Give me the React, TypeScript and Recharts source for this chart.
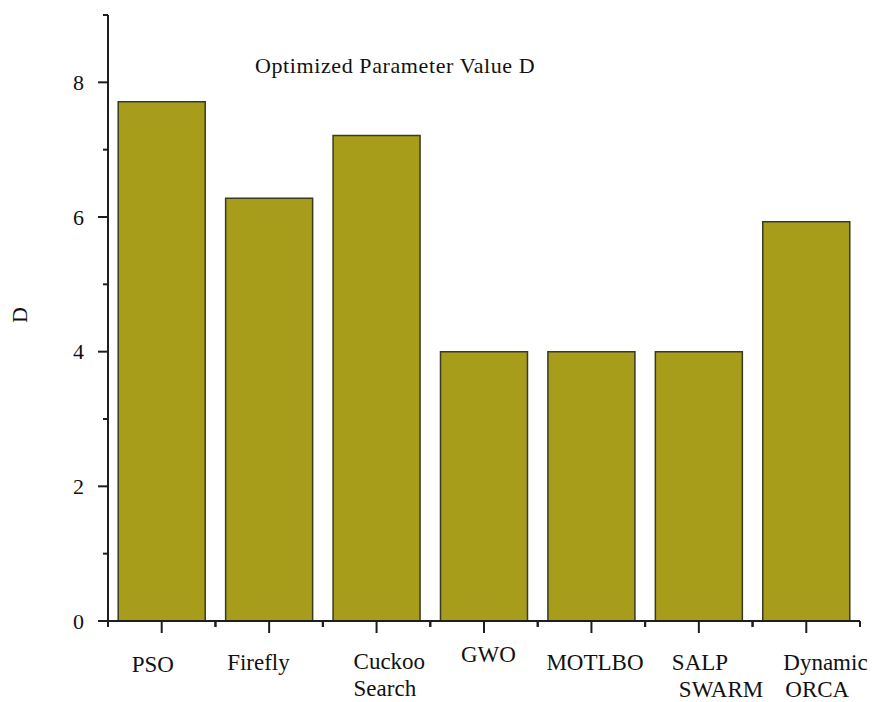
import { Bar, BarChart, XAxis, YAxis } from "recharts"

const CATEGORIES = ["PSO", "Firefly", "Cuckoo Search", "GWO", "MOTLBO", "SALP SWARM", "Dynamic ORCA"]
const LABEL_LINES = [["PSO"], ["Firefly"], ["Cuckoo", "Search"], ["GWO"], ["MOTLBO"], ["SALP", "SWARM"], ["Dynamic", "ORCA"]]
const D_VALUES = [7.71, 6.28, 7.21, 4.0, 4.0, 4.0, 5.93]
const Y_TICKS = [0, 1, 2, 3, 4, 5, 6, 7, 8, 9]
const TITLE = "Optimized Parameter Value D"

// label placement (left x offset from tick, baseline y) – the source labels are placed by hand
const LABEL_POS = [
  [[-30, 672]],
  [[-42, 670]],
  [[-23, 669], [-23, 696]],
  [[-23, 662]],
  [[-45, 670]],
  [[-27, 670], [-20, 697]],
  [[-23, 670], [-21, 697]],
]

const W = 875
const H = 702
const M = { top: 15, right: 15, left: 0, bottom: 0 }
const Y_W = 108
const X_H = 81
const BAND = (W - M.right - Y_W) / CATEGORIES.length
const FONT = "'Liberation Serif', 'Times New Roman', Times, serif"
const INK = "#1e1e1e"

const data = CATEGORIES.map((name, i) => ({ name, d: D_VALUES[i] }))

function XTick(props: any) {
  const { x, y, payload } = props
  const i = payload.index
  const lines = LABEL_LINES[i]
  return (
    <g>
      <line x1={x} x2={x} y1={y} y2={y + 12} stroke={INK} strokeWidth={2} />
      <line x1={x - BAND / 2} x2={x - BAND / 2} y1={y} y2={y + 6} stroke={INK} strokeWidth={2} />
      <line x1={x + BAND / 2} x2={x + BAND / 2} y1={y} y2={y + 6} stroke={INK} strokeWidth={2} />
      {lines.map((t, k) => (
        <text
          key={k}
          x={x + LABEL_POS[i][k][0]}
          y={LABEL_POS[i][k][1]}
          textAnchor="start"
          style={{ fontFamily: FONT, fontSize: 23 }}
          fill="#111"
        >
          {t}
        </text>
      ))}
    </g>
  )
}

function YTick(props: any) {
  const { x, y, payload } = props
  const v = payload.value
  const major = v % 2 === 0
  return (
    <g>
      <line x1={x - (major ? 10 : 5)} x2={x} y1={y} y2={y} stroke={INK} strokeWidth={2} />
      {major && (
        <text
          x={x - 24}
          y={y}
          textAnchor="end"
          dominantBaseline="central"
          style={{ fontFamily: FONT, fontSize: 22 }}
          fill="#111"
        >
          {v}
        </text>
      )}
    </g>
  )
}

export default function App() {
  return (
    <div style={{ position: "absolute", left: 0, top: 0, width: W, height: H, background: "#fff" }}>
      <BarChart width={W} height={H} data={data} margin={M} barCategoryGap="9.5%">
        <XAxis
          dataKey="name"
          height={X_H}
          tickSize={0}
          tickMargin={0}
          tickLine={false}
          axisLine={{ stroke: INK, strokeWidth: 2 }}
          tick={<XTick />}
          interval={0}
        />
        <YAxis
          type="number"
          domain={[0, 9]}
          ticks={Y_TICKS}
          width={Y_W}
          tickSize={0}
          tickMargin={0}
          tickLine={false}
          axisLine={{ stroke: INK, strokeWidth: 2 }}
          tick={<YTick />}
          interval={0}
          label={{
            value: "D",
            content: () => (
              <text
                x={19}
                y={315}
                transform="rotate(-90 19 315)"
                textAnchor="middle"
                dominantBaseline="central"
                style={{ fontFamily: FONT, fontSize: 22 }}
                fill="#111"
              >
                D
              </text>
            ),
          }}
        />
        <Bar dataKey="d" fill="#a79d1a" stroke="#3a3a22" strokeWidth={1.5} isAnimationActive={false} />
      </BarChart>
      <div
        style={{
          position: "absolute",
          left: 255,
          top: 55,
          fontFamily: FONT,
          fontSize: 22,
          lineHeight: 1,
          letterSpacing: 0.6,
          color: "#111",
          whiteSpace: "nowrap",
        }}
      >
        {TITLE}
      </div>
    </div>
  )
}
